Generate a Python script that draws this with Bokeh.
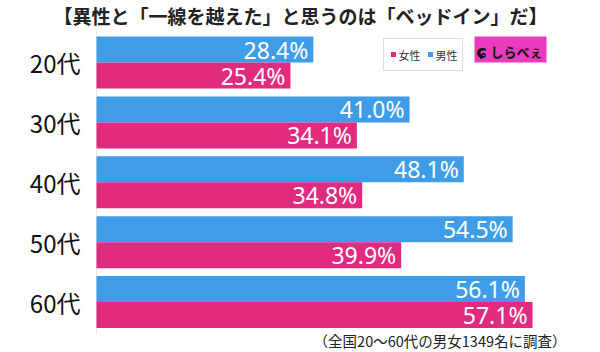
from bokeh.plotting import figure
from bokeh.models import Range1d, ColumnDataSource
from bokeh.core.properties import value
from bokeh.embed import file_html
from bokeh.resources import INLINE

ages = ["20代", "30代", "40代", "50代", "60代"]
male = [28.4, 41.0, 48.1, 54.5, 56.1]
female = [25.4, 34.1, 34.8, 39.9, 57.1]
legend_labels = ["女性", "男性"]
title_text = "【異性と「一線を越えた」と思うのは「ベッドイン」だ】"
note_text = "（全国20～60代の男女1349名に調査）"
logo_text = "しらべぇ"

BLUE = "#3f9de8"
PINK = "#e02b7f"
JP = "Noto Sans CJK JP"

W, H = 600, 352
X0 = 96.0          # pixel of 0%
SX = 7.636         # pixels per percent
Y0 = 62.0          # pixel center of first group
SY = 59.9          # pixels per group

def dx(px):
    return (px - X0) / SX

def dy(py):
    return (py - Y0) / SY

p = figure(width=W, height=H, output_backend="svg", toolbar_location=None,
           x_range=Range1d(dx(0), dx(W)), y_range=Range1d(dy(H), dy(0)),
           min_border=0, border_fill_color="white", background_fill_color="white",
           outline_line_color=None)
p.axis.visible = False
p.grid.visible = False

idx = list(range(len(ages)))
bh = 26 / SY
src = ColumnDataSource(dict(
    yb=[i - bh / 2 for i in idx], yp=[i + bh / 2 for i in idx],
    male=male, female=female, ages=ages, y=idx,
    mlab=[f"{v:.1f}%" for v in male], flab=[f"{v:.1f}%" for v in female],
    mx=[v - 5 / SX for v in male], fx=[v - 5 / SX for v in female],
))

# faint baseline
p.segment(x0=[0], y0=[dy(30)], x1=[0], y1=[dy(334)], line_color="#e6e6e6", line_width=1)

p.hbar(y="yb", left=0, right="male", height=bh, source=src, fill_color=BLUE, line_color=None)
p.hbar(y="yp", left=0, right="female", height=bh, source=src, fill_color=PINK, line_color=None)

p.text(x="mx", y="yb", text="mlab", source=src, text_color="white", text_align="right",
       text_baseline="middle", text_font=value("Noto Sans"), text_font_size="23px")
p.text(x="fx", y="yp", text="flab", source=src, text_color="white", text_align="right",
       text_baseline="middle", text_font=value("Noto Sans"), text_font_size="23px")

# category labels
p.text(x=dx(80), y="y", text="ages", source=src, text_color="#111111", text_align="right",
       text_baseline="middle", text_font=value(JP), text_font_size="24px")

# title
p.text(x=[dx(300)], y=[dy(15)], text=[title_text], text_color="#222222", text_align="center",
       text_baseline="middle", text_font=value(JP), text_font_size="19px", text_font_style="bold")

# legend box
p.quad(left=[dx(383)], right=[dx(462)], top=[dy(38)], bottom=[dy(70)],
       fill_color="white", line_color="#dddddd", line_width=1)
p.rect(x=[dx(393), dx(430)], y=[dy(54), dy(54)], width=5 / SX, height=5 / SY,
       fill_color=[PINK, BLUE], line_color=None)
p.text(x=[dx(398), dx(435)], y=[dy(54), dy(54)], text=legend_labels, text_color="#333333",
       text_baseline="middle", text_font=value(JP), text_font_size="11px")

# logo
p.quad(left=[dx(474)], right=[dx(546)], top=[dy(36)], bottom=[dy(62)],
       fill_color="#e83cbf", line_color=None)
p.text(x=[dx(481)], y=[dy(51)], text=["ɕ"], text_color="#111111", text_align="center",
       text_baseline="middle", text_font=value("DejaVu Sans"), text_font_size="18px",
       text_font_style="bold")
p.text(x=[dx(516)], y=[dy(51)], text=[logo_text], text_color="#111111", text_align="center",
       text_baseline="middle", text_font=value(JP), text_font_size="13px", text_font_style="bold")

# footnote
p.text(x=[dx(566)], y=[dy(340)], text=[note_text], text_color="#222222", text_align="right",
       text_baseline="middle", text_font=value(JP), text_font_size="14.5px")

open("out.html", "w").write(file_html(p, INLINE))
